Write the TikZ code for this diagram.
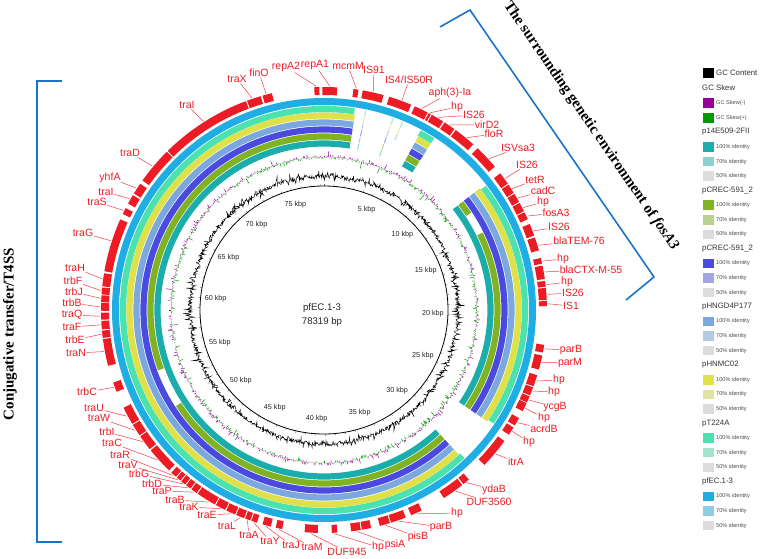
\documentclass[tikz,border=0pt]{standalone}
\usepackage{fontspec}
\setmainfont{Liberation Sans}
\newfontfamily\serifbold{Liberation Serif}
\usetikzlibrary{calc}
\definecolor{gred}{RGB}{237,28,36}
\definecolor{cTeal}{RGB}{27,172,172}
\definecolor{cOlive}{RGB}{128,178,36}
\definecolor{cBlue}{RGB}{74,74,224}
\definecolor{cLblue}{RGB}{124,168,224}
\definecolor{cYel}{RGB}{224,224,72}
\definecolor{cAqua}{RGB}{76,226,176}
\definecolor{cSky}{RGB}{30,174,228}
\definecolor{tTeal}{RGB}{142,208,208}
\definecolor{tOlive}{RGB}{184,208,144}
\definecolor{tBlue}{RGB}{164,164,228}
\definecolor{tLblue}{RGB}{180,202,228}
\definecolor{tYel}{RGB}{226,226,164}
\definecolor{tAqua}{RGB}{164,228,204}
\definecolor{tSky}{RGB}{142,206,226}
\definecolor{gry}{RGB}{220,220,220}
\definecolor{skp}{RGB}{153,0,153}
\definecolor{skg}{RGB}{0,153,0}
\definecolor{brk}{RGB}{26,115,200}
\newcommand\ringseg[4]{\draw[#4] (C) ++({#1-90}:#3) arc[start angle={#1-90}, end angle={#2-90}, radius=#3];}
\newcommand\glab[5]{%
  \coordinate (g#1) at ($(C)+({#2-90}:224)$);
  \node[lab] (l#1) at (#3,#4) {#5};
  \draw[leader] (g#1) -- (l#1);}
\newcommand\legtitle[3]{\node[legt, anchor=west] (#1) at (702,#2) {#3};}
\newcommand\legitem[5]{%
  \node[legsq, fill=#3] (s#1) at (708.5,#2) {};
  \node[#5, anchor=west] (t#1) at (716,#2) {#4};}
\begin{document}
\begin{tikzpicture}[x=1pt,y=-1pt,
  ring/.style={draw=#1, line width=6.2pt},
  thinring/.style={draw=#1, line width=6.2pt, opacity=0.55},
  genebox/.style={draw=gred, line width=8pt},
  lab/.style={text=gred, font=\fontsize{10.5}{12}\selectfont, inner sep=0.6pt},
  leader/.style={draw=gred!85, line width=0.5pt},
  kbp/.style={font=\fontsize{7.2}{8}\selectfont, text=black!85},
  legt/.style={font=\fontsize{7.8}{9}\selectfont, text=black!80, inner sep=0pt},
  legs/.style={font=\fontsize{5.6}{7}\selectfont, text=black!70, inner sep=0pt},
  legsq/.style={minimum width=10.5pt, minimum height=9.5pt, inner sep=0pt, draw=none},
  bracket/.style={draw=brk, line width=1.6pt}]
\useasboundingbox (0,0) rectangle (760,559);
\fill[white] (0,0) rectangle (760,559);
\coordinate (C) at (324,310);

% BLAST rings
\foreach \s/\e in {137/369, 28.5/32.7, 52/124.3} {\ringseg{\s}{\e}{166.5}{ring=cTeal}}
\foreach \s/\e in {137/237, 250/369, 28.5/32.7, 52/56.5, 64/124.3} {\ringseg{\s}{\e}{173.5}{ring=cOlive}}
\foreach \s/\e in {137/369, 28.5/32.7, 52/124.3} {\ringseg{\s}{\e}{180.5}{ring=cBlue}}
\foreach \s/\e in {137/369, 28.5/32.7, 52/124.3} {\ringseg{\s}{\e}{187.5}{ring=cLblue}}
\foreach \s/\e in {137/369, 28.5/32.7, 52/124.3} {\ringseg{\s}{\e}{194.5}{ring=cYel}}
\foreach \s/\e in {136.5/368.7, 28.3/32.7, 52.5/123.8} {\ringseg{\s}{\e}{201}{ring=cAqua}}
% faint short hits in the top gap
\foreach \p in {11.7, 19.7} {
  \ringseg{\p}{\p+0.3}{166.5}{thinring=cTeal}
  \ringseg{\p}{\p+0.3}{173.5}{thinring=cOlive}
  \ringseg{\p}{\p+0.3}{180.5}{thinring=cBlue}
  \ringseg{\p}{\p+0.3}{187.5}{thinring=cLblue}
  \ringseg{\p}{\p+0.3}{194.5}{thinring=cYel}
  \ringseg{\p}{\p+0.3}{201}{thinring=cAqua}}
\ringseg{22.5}{22.8}{187.5}{thinring=cLblue}
\ringseg{22.5}{22.8}{194.5}{thinring=cYel}
\ringseg{22.5}{22.8}{201}{thinring=cAqua}
\draw[cSky, line width=7pt] (C) circle[radius=208.5];

% gene blocks
\foreach \s/\e in {315.5/339.5, 339.8/343.5, 344/346.5, 357.5/358.8, 359.6/363.4, 7.6/8.9,
  10/15.5, 17/23, 24/27.7, 28/28.6, 28.9/32.3, 32.7/35.8, 36.2/42, 43.5/50, 52.2/55.5,
  55.8/58.3, 58.6/61, 61.3/63.7, 64/66, 67.3/70.5, 71/74.5, 76.5/78, 78.5/82, 82.5/84,
  84.3/87.4, 87.7/89, 99/101, 101.8/105.5, 107/110, 110.3/112.5, 112.8/114.5, 114.7/117,
  119/121.2, 121.8/124, 126/134, 139.5/141.3, 141.7/147.5, 154/157, 158.5/162.5,
  162.8/165.5, 167.8/170.2, 170.5/173, 176.6/178, 181.6/185, 190.8/192.5, 193.8/196,
  197.5/199, 199.3/200.7, 201/203.2, 203.5/206, 206.3/209, 209.3/214.5, 214.8/216.5,
  216.8/218.2, 218.5/219.8, 220.1/221.3, 221.6/223.2, 224/231, 231.4/235.5, 235.8/239,
  239.3/244, 248.5/251, 255.5/262.5, 262.8/264.7, 265/267.2, 267.5/269.3, 269.8/271.8,
  272/273.8, 274/275.8, 276.1/279.5, 280/294, 295.5/297.2, 298.5/301, 301.5/304.5,
  305.5/315.2} {\ringseg{\s}{\e}{219}{genebox}}

% GC skew
\pgfmathsetseed{11}
\begin{scope}[shift={(324,310)}]
\foreach \i in {0,...,1079}{
  \pgfmathsetmacro\aa{\i/3-90}
  \pgfmathsetmacro\ll{2.2*rand+6*rand*rnd^3}
  \pgfmathsetmacro\rr{153+\ll}
  \ifdim\ll pt>0pt \def\cc{skp}\else\def\cc{skg}\fi
  \draw[\cc, line width=0.5pt] (\aa:153) -- (\aa:\rr);
}
% GC content
\draw[black, line width=0.45pt] plot[samples=1440, domain=0:360, variable=\t]
  ({\t-90}:{134+2*rand+7*rand*rnd^4}) -- cycle;
% inner circle
\draw[black, line width=0.8pt] (0,0) circle[radius=124];
\foreach \k in {0,...,78}{
  \pgfmathsetmacro\aa{\k*4.59659-90}
  \draw[black!70, line width=0.3pt] (\aa:124) -- (\aa:126);
}
\end{scope}

% kbp labels
\foreach \k in {5,10,...,75}{
  \pgfmathsetmacro\aa{\k*4.59659-90}
  \node[kbp] (k\k) at ($(C)+(\aa:109)$) {\k\ kbp};
}
\node[font=\fontsize{9.6}{11}\selectfont, text=black!85] (pname) at (322,308) {pfEC.1-3};
\node[font=\fontsize{9.6}{11}\selectfont, text=black!85] (plen) at (322,322.5) {78319 bp};

% gene labels
\glab{1}{327.4}{187}{105}{traI}
\glab{2}{341.2}{237}{79}{traX}
\glab{3}{345}{259}{73}{finO}
\glab{4}{358}{286}{67}{repA2}
\glab{5}{1.5}{315}{65}{repA1}
\glab{6}{8.3}{348}{66}{mcmM}
\glab{7}{12.7}{374}{70}{IS91}
\glab{8}{20.4}{409}{80}{IS4/IS50R}
\glab{9}{25.9}{450}{93}{aph(3)-Ia}
\glab{10}{28.3}{457}{107}{hp}
\glab{11}{30.7}{474}{115}{IS26}
\glab{12}{34.3}{487}{125}{virD2}
\glab{13}{39.7}{494}{134}{floR}
\glab{14}{47.5}{518}{148}{ISVsa3}
\glab{15}{54}{527}{165}{IS26}
\glab{16}{57.2}{535}{180}{tetR}
\glab{17}{60}{543}{191}{cadC}
\glab{18}{62.8}{543}{202}{hp}
\glab{19}{65.2}{556}{213}{fosA3}
\glab{20}{69.3}{559}{227}{IS26}
\glab{21}{73.2}{579}{241}{blaTEM-76}
\glab{22}{77.4}{563}{259}{hp}
\glab{23}{80.2}{591}{270}{blaCTX-M-55}
\glab{24}{83.5}{567}{282}{hp}
\glab{25}{86}{573}{293}{IS26}
\glab{26}{88.4}{571}{306}{IS1}
\glab{27}{100}{571}{350}{parB}
\glab{28}{103.5}{570}{363}{parM}
\glab{29}{108.5}{559}{380}{hp}
\glab{30}{111.2}{554}{392}{hp}
\glab{31}{113.7}{555}{407}{ycgB}
\glab{32}{116}{544}{418}{hp}
\glab{33}{120.2}{544}{429}{acrdB}
\glab{34}{122.8}{529}{442}{hp}
\glab{35}{130}{516}{462}{itrA}
\glab{36}{140.4}{494}{490}{ydaB}
\glab{37}{144}{489}{502}{DUF3560}
\glab{38}{155.5}{457}{513}{hp}
\glab{39}{160.5}{441}{527}{parB}
\glab{40}{164}{418}{537}{pisB}
\glab{41}{171.5}{395}{545}{psiA}
\glab{42}{177.3}{378}{547}{hp}
\glab{43}{183.3}{347}{552}{DUF945}
\glab{44}{191.6}{312}{547}{traM}
\glab{45}{195}{291}{545}{traJ}
\glab{46}{198.2}{270}{541}{traY}
\glab{47}{200}{249}{535}{traA}
\glab{48}{202}{227}{526}{traL}
\glab{49}{204.5}{207}{515}{traE}
\glab{50}{207.5}{189}{507}{traK}
\glab{51}{211}{175}{500}{traB}
\glab{52}{215.6}{162}{491}{traP}
\glab{53}{217.5}{152}{484}{trbD}
\glab{54}{219.1}{139}{474}{trbG}
\glab{55}{220.7}{128}{465}{traV}
\glab{56}{222.4}{120}{455}{traR}
\glab{57}{228}{112}{443}{traC}
\glab{58}{234}{107}{432}{trbI}
\glab{59}{237.5}{99}{418}{traW}
\glab{60}{241.7}{94}{408}{traU}
\glab{61}{249.8}{87}{392}{trbC}
\glab{62}{259.3}{76}{353}{traN}
\glab{63}{263.8}{75}{340}{trbE}
\glab{64}{266.2}{72}{327}{traF}
\glab{65}{268.4}{72}{315}{traQ}
\glab{66}{270.8}{72}{303}{trbB}
\glab{67}{273}{74}{292}{trbJ}
\glab{68}{275}{73}{281}{trbF}
\glab{69}{278}{75}{268}{traH}
\glab{70}{288}{83}{233}{traG}
\glab{71}{296.4}{97}{202}{traS}
\glab{72}{299.8}{106}{192}{traI}
\glab{73}{303}{110}{178}{yhfA}
\glab{74}{310}{130}{153}{traD}

% brackets and titles
\draw[bracket] (62,81) -- (37,81) -- (37,542) -- (62,542);
\node[rotate=90, font=\serifbold\bfseries\fontsize{15}{18}\selectfont] (tleft) at (10,334) {Conjugative transfer/T4SS};
\draw[bracket] (440,27) -- (470,10) -- (654,277) -- (626,300);
\node[rotate=-55.5, font=\serifbold\bfseries\fontsize{15}{18}\selectfont] (ttop) at (591,126) {The surrounding genetic environment of \textit{fosA3}};

% legend
\legitem{gcc}{73}{black}{GC Content}{legt}
\legtitle{gcs}{88}{GC Skew}
\legitem{skm}{103}{skp}{GC Skew(-)}{legs}
\legitem{skpp}{118}{skg}{GC Skew(+)}{legs}
\legtitle{h1}{132}{p14E509-2FII}
\legitem{a1}{147}{cTeal}{100\% identity}{legs}
\legitem{b1}{161.6}{tTeal}{70\% identity}{legs}
\legitem{c1}{176.2}{gry}{50\% identity}{legs}
\legtitle{h2}{190.5}{pCREC-591\_2}
\legitem{a2}{205}{cOlive}{100\% identity}{legs}
\legitem{b2}{219.8}{tOlive}{70\% identity}{legs}
\legitem{c2}{234.5}{gry}{50\% identity}{legs}
\legtitle{h3}{249}{pCREC-591\_2}
\legitem{a3}{263.5}{cBlue}{100\% identity}{legs}
\legitem{b3}{278}{tBlue}{70\% identity}{legs}
\legitem{c3}{292.7}{gry}{50\% identity}{legs}
\legtitle{h4}{306.5}{pHNGD4P177}
\legitem{a4}{321.5}{cLblue}{100\% identity}{legs}
\legitem{b4}{336}{tLblue}{70\% identity}{legs}
\legitem{c4}{350.7}{gry}{50\% identity}{legs}
\legtitle{h5}{365}{pHNMC02}
\legitem{a5}{380}{cYel}{100\% identity}{legs}
\legitem{b5}{394.5}{tYel}{70\% identity}{legs}
\legitem{c5}{409}{gry}{50\% identity}{legs}
\legtitle{h6}{423.3}{pT224A}
\legitem{a6}{438}{cAqua}{100\% identity}{legs}
\legitem{b6}{452.7}{tAqua}{70\% identity}{legs}
\legitem{c6}{467.3}{gry}{50\% identity}{legs}
\legtitle{h7}{481.5}{pfEC.1-3}
\legitem{a7}{496.3}{cSky}{100\% identity}{legs}
\legitem{b7}{511}{tSky}{70\% identity}{legs}
\legitem{c7}{525.7}{gry}{50\% identity}{legs}
\end{tikzpicture}
\end{document}
